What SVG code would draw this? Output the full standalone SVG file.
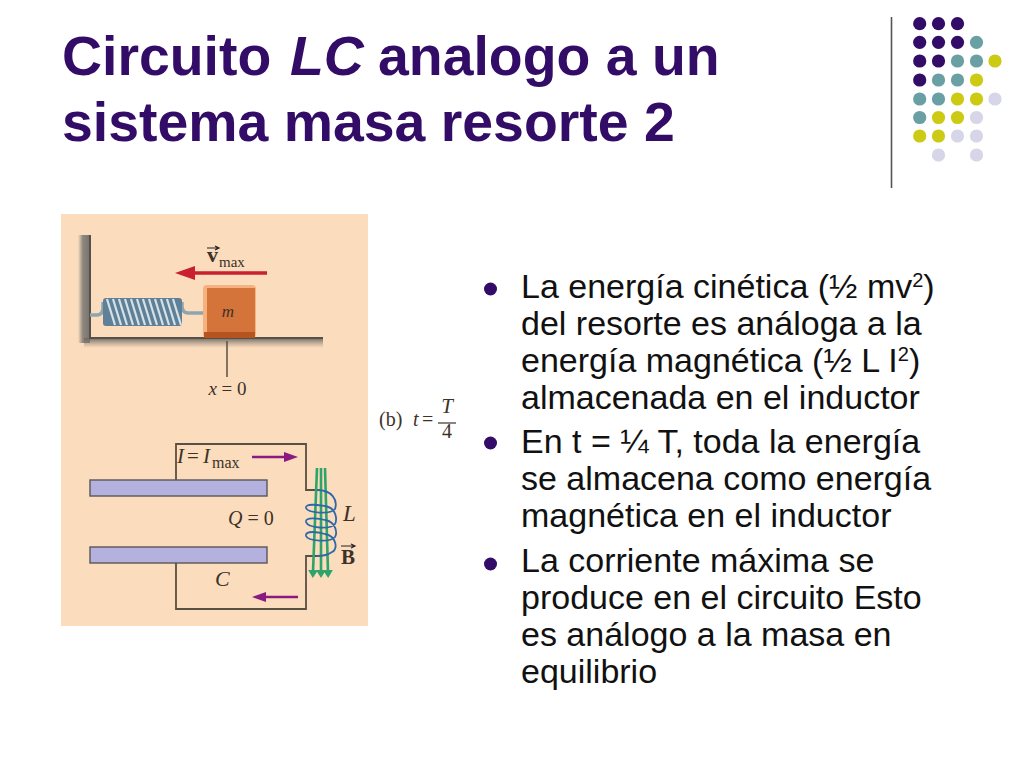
<svg xmlns="http://www.w3.org/2000/svg" width="1024" height="768" viewBox="0 0 1024 768">
<defs>
<style>
.t{font-family:"Liberation Sans",Arial,sans-serif;font-weight:700;font-size:55.4px;fill:#320c66}
.b{font-family:"Liberation Sans",Arial,sans-serif;font-size:34px;fill:#111}
.s{font-size:20px}
.f{font-family:"Liberation Serif","Times New Roman",serif;fill:#3d3228}
.w{fill:none;stroke:#5a4f44;stroke-width:1.8}
.p{fill:#320c66}.g{fill:#6a9fa3}.y{fill:#cdca14}.l{fill:#d6d6e8}
.coil{fill:none;stroke:#2f68a8;stroke-width:1.8}
.gr{stroke:#2ea36a;stroke-width:2.6;fill:none}
</style>
<marker id="ga" markerWidth="8" markerHeight="10" refX="2" refY="5" orient="auto" markerUnits="userSpaceOnUse" viewBox="0 0 8 10"><path d="M0 0L8 5L0 10z" fill="#2ea36a"/></marker>
<linearGradient id="sh1" x1="0" y1="0" x2="1" y2="0"><stop offset="0" stop-color="#8d8780" stop-opacity="0"/><stop offset="0.4" stop-color="#8d8780"/><stop offset="1" stop-color="#77726c"/></linearGradient>
<linearGradient id="sh2" x1="0" y1="0" x2="0" y2="1"><stop offset="0" stop-color="#6e6962"/><stop offset="1" stop-color="#a08f80" stop-opacity="0"/></linearGradient>
</defs>
<rect width="1024" height="768" fill="#fff"/>
<text class="t" x="62" y="74.500">Circuito <tspan x="290" font-style="italic">LC </tspan><tspan x="378">analogo a un</tspan></text>
<text class="t" x="62" y="140.500">sistema masa resorte 2</text>
<g id="deco">
<line x1="891.5" y1="17" x2="891.5" y2="188" stroke="#555" stroke-width="1.6"/>
<g class="p"><circle cx="919.7" cy="23.7" r="6.6"/><circle cx="938.5" cy="23.7" r="6.6"/><circle cx="957.5" cy="23.7" r="6.6"/><circle cx="919.7" cy="42.3" r="6.6"/><circle cx="938.5" cy="42.3" r="6.6"/><circle cx="957.5" cy="42.3" r="6.6"/><circle cx="919.7" cy="61" r="6.6"/><circle cx="938.5" cy="61" r="6.6"/><circle cx="919.7" cy="80" r="6.6"/></g>
<g class="g"><circle cx="976.5" cy="42.3" r="6.6"/><circle cx="957.5" cy="61" r="6.6"/><circle cx="976.5" cy="61" r="6.6"/><circle cx="938.5" cy="80" r="6.6"/><circle cx="957.5" cy="80" r="6.6"/><circle cx="919.7" cy="99" r="6.6"/><circle cx="938.5" cy="99" r="6.6"/><circle cx="919.7" cy="117.5" r="6.6"/></g>
<g class="y"><circle cx="995" cy="61" r="6.6"/><circle cx="976.5" cy="80" r="6.6"/><circle cx="957.5" cy="99" r="6.6"/><circle cx="976.5" cy="99" r="6.6"/><circle cx="938.5" cy="117.5" r="6.6"/><circle cx="957.5" cy="117.5" r="6.6"/><circle cx="919.7" cy="136" r="6.6"/><circle cx="938.5" cy="136" r="6.6"/></g>
<g class="l"><circle cx="995" cy="99" r="6.6"/><circle cx="976.5" cy="117.5" r="6.6"/><circle cx="957.5" cy="136" r="6.6"/><circle cx="976.5" cy="136" r="6.6"/><circle cx="938.5" cy="155" r="6.6"/><circle cx="976.5" cy="155" r="6.6"/></g>
</g>
<rect x="61" y="214" width="307" height="412" fill="#fbdcbd"/>
<g id="mass-spring">
<rect x="78" y="235" width="12" height="108" fill="url(#sh1)"/>
<rect x="84" y="338" width="239" height="10" fill="url(#sh2)"/>
<path d="M90 235V338H323" fill="none" stroke="#55504a" stroke-width="2"/>
<path d="M90 315H97Q102 315 103 309V302M182 302V307Q183 313 188 313H203" fill="none" stroke="#8fa5ae" stroke-width="3.500"/>
<rect x="103" y="298" width="79" height="28" rx="3" fill="#5f8096"/>
<path d="M107 299L115 325M113 299L121 325M119 299L127 325M125 299L133 325M131 299L139 325M137 299L145 325M143 299L151 325M149 299L157 325M155 299L163 325M161 299L169 325M167 299L175 325M173 299L181 325" stroke="#d5e2e8" stroke-width="2.200" fill="none"/>
<rect x="203" y="285" width="53" height="53" rx="4" fill="#f6b27e"/>
<path d="M207 288H255V332H207z" fill="#d4743a"/>
<path d="M204 338H255V332H204z" fill="#b4541f"/>
<text class="f" x="228" y="317" text-anchor="middle" font-size="17" font-style="italic">m</text>
<line x1="267" y1="273" x2="185" y2="273" stroke="#c8202f" stroke-width="3.600"/>
<path d="M175 273L195 266V280z" fill="#c8202f"/>
<text class="f" x="207" y="262" font-size="22" font-weight="700" fill="#222">v</text>
<text class="f" x="219" y="267" font-size="15">max</text>
<path d="M207 248H218M215 246L219 248L215 250" fill="none" stroke="#222" stroke-width="1.200"/>
<line x1="227" y1="341" x2="227" y2="377" stroke="#5a4f44" stroke-width="1.500"/>
<text class="f" x="227.500" y="395" text-anchor="middle" font-size="19"><tspan font-style="italic">x</tspan> = 0</text>
</g>
<g id="lc-circuit">
<path class="w" d="M176 480V444H306V490H320"/>
<path class="w" d="M176 563V609H306V556H320"/>
<rect x="90" y="480" width="177" height="16" fill="#b4b1df" stroke="#5a5656" stroke-width="1.400"/>
<rect x="90" y="547" width="177" height="16" fill="#b4b1df" stroke="#5a5656" stroke-width="1.400"/>
<path class="gr" marker-end="url(#ga)" d="M317 468L313 572"/>
<path class="gr" marker-end="url(#ga)" d="M321 468V572"/>
<path class="gr" marker-end="url(#ga)" d="M325 468L328 572"/>
<path class="coil" d="M317 490C332 490 338 500 335 509C330 515 308 513 306 508C305 503 318 505 325 506C337 508 337 520 335 524C330 530 308 528 306 522C305 517 318 518 325 520C337 522 337 534 335 537C330 543 308 541 306 536C305 530 318 532 325 534C337 536 338 550 332 552C328 555 322 556 317 556"/>
<line x1="252" y1="457" x2="288" y2="457" stroke="#8a1a80" stroke-width="2.500"/>
<path d="M298 457L284 452V462z" fill="#8a1a80"/>
<line x1="298" y1="597" x2="262" y2="597" stroke="#8a1a80" stroke-width="2.500"/>
<path d="M252 597L266 592V602z" fill="#8a1a80"/>
<text class="f" x="177" y="463" font-size="21" font-style="italic">I<tspan x="187" font-style="normal">=</tspan><tspan x="203">I</tspan></text>
<text class="f" x="212" y="468" font-size="16">max</text>
<text class="f" x="228" y="525" font-size="20"><tspan font-style="italic">Q</tspan> = 0</text>
<text class="f" x="343" y="521" font-size="23" font-style="italic">L</text>
<text class="f" x="341" y="564" font-size="21" font-weight="700">B</text>
<path d="M341 546H354M351 544L355 546L351 548" fill="none" stroke="#222" stroke-width="1.200"/>
<text class="f" x="215" y="586" font-size="22" font-style="italic">C</text>
<text class="f" x="379" y="426" font-size="20">(b)</text>
<text class="f" x="413" y="426" font-size="20" font-style="italic">t</text>
<text class="f" x="422" y="426" font-size="20">=</text>
<text class="f" x="447" y="413" font-size="21" font-style="italic" text-anchor="middle">T</text>
<line x1="438" y1="423" x2="456" y2="423" stroke="#3d3228" stroke-width="1.200"/>
<text class="f" x="447" y="438" font-size="20" text-anchor="middle">4</text>
</g>
<g id="bullets" class="p">
<circle cx="490.500" cy="289" r="6.500"/><circle cx="490.500" cy="443" r="6.500"/><circle cx="490.500" cy="564" r="6.500"/>
</g>
<g id="body">
<text class="b" x="521" y="298">La energía cinética (½ mv<tspan class="s" dy="-11">2</tspan><tspan dy="11">)</tspan></text>
<text class="b" x="521" y="335">del resorte es análoga a la</text>
<text class="b" x="521" y="372">energía magnética (½ L I<tspan class="s" dy="-11">2</tspan><tspan dy="11">)</tspan></text>
<text class="b" x="521" y="409">almacenada en el inductor</text>
<text class="b" x="521" y="453">En t = ¼ T, toda la energía</text>
<text class="b" x="521" y="490">se almacena como energía</text>
<text class="b" x="521" y="527">magnética en el inductor</text>
<text class="b" x="521" y="572">La corriente máxima se</text>
<text class="b" x="521" y="609">produce en el circuito Esto</text>
<text class="b" x="521" y="646">es análogo a la masa en</text>
<text class="b" x="521" y="683">equilibrio</text>
</g>
</svg>
